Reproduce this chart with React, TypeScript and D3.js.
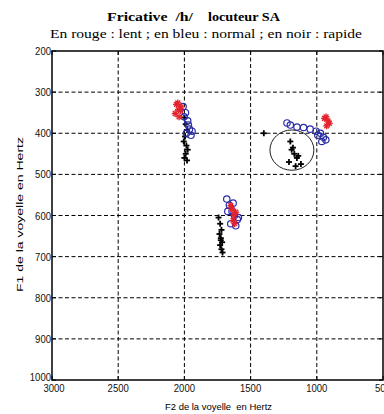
import React from "react";
import * as d3 from "d3";

const xTicks = [3000, 2500, 2000, 1500, 1000, 500];
const yTicks = [200, 300, 400, 500, 600, 700, 800, 900, 1000];

// Red: lent
const redF2 = [2060, 2045, 2070, 2030, 2050, 2025, 2040, 1640, 1625, 1612, 1632, 1650, 1620, 930, 915, 942, 905, 925];
const redF1 = [330, 342, 352, 345, 326, 336, 360, 585, 600, 592, 612, 576, 620, 360, 370, 364, 376, 382];
// Blue: normal
const blueF2 = [2010, 1992, 1975, 1962, 1985, 1950, 1970, 2002, 1942, 1680, 1660, 1640, 1622, 1600, 1650, 1612, 1672, 1632, 1592, 1225, 1200, 1150, 1100, 1050, 1005, 972, 950, 932, 962, 992];
const blueF1 = [335, 350, 370, 390, 400, 405, 380, 360, 395, 560, 575, 590, 600, 610, 620, 625, 590, 570, 605, 375, 380, 385, 386, 390, 395, 400, 410, 416, 420, 405];
// Black: rapide
const blackF2 = [2000, 1990, 1980, 1995, 2005, 1985, 1975, 1990, 2000, 1980, 1742, 1730, 1720, 1735, 1725, 1715, 1730, 1720, 1712, 1725, 1400, 1200, 1180, 1170, 1150, 1210, 1120, 1190, 1140, 1160];
const blackF1 = [362, 378, 392, 408, 420, 430, 440, 450, 460, 466, 605, 620, 635, 645, 655, 665, 672, 682, 690, 660, 400, 420, 435, 450, 460, 470, 475, 440, 455, 480];

const ellipseCenter = [1188, 441];
const ellipseRadius = [166, 49];

const title1a = "Fricative  /h/";
const title1b = "locuteur SA";
const title2 = "En rouge : lent ; en bleu : normal ; en noir : rapide";
const xLabel = "F2 de la voyelle  en Hertz";
const yLabel = "F1 de la voyelle en Hertz";

const W = 384, H = 414;
const left = 52, right = 383, top = 51, bottom = 380;

export default function App() {
  const x = d3.scaleLinear().domain([3000, 500]).range([left, right]);
  const y = d3.scaleLinear().domain([200, 1000]).range([top, bottom]);
  const tickFont = "'Liberation Sans', Arial, sans-serif";
  const serif = "'Liberation Serif', 'Times New Roman', serif";
  const red = "#e3232c", blue = "#2a2ca8";

  const star = (cx: number, cy: number, k: number) => {
    const r = 3.4;
    const lines = [0, 45, 90, 135].map((a) => {
      const t = (a * Math.PI) / 180;
      return <line key={a} x1={cx - r * Math.cos(t)} y1={cy - r * Math.sin(t)} x2={cx + r * Math.cos(t)} y2={cy + r * Math.sin(t)} />;
    });
    return <g key={k}>{lines}</g>;
  };

  const lw = (t: number) => String(t).length * 5.3;

  return (
    <svg width={W} height={H} style={{ position: "absolute", left: 0, top: 0, background: "#fff" }}>
      <rect width={W} height={H} fill="#fff" />
      <text x={107} y={21} fontFamily={serif} fontSize={12} fontWeight="bold" textLength={86} lengthAdjust="spacingAndGlyphs" style={{ whiteSpace: "pre" }}>{title1a}</text>
      <text x={208} y={21} fontFamily={serif} fontSize={12} fontWeight="bold" textLength={72} lengthAdjust="spacingAndGlyphs">{title1b}</text>
      <text x={50} y={38} fontFamily={serif} fontSize={12.5} textLength={312} lengthAdjust="spacingAndGlyphs">{title2}</text>

      {/* grid */}
      <g stroke="#000" strokeWidth={1} strokeDasharray="4,2.5">
        {xTicks.slice(1, -1).map((t) => (
          <line key={"gx" + t} x1={x(t)} x2={x(t)} y1={top} y2={bottom} />
        ))}
        {yTicks.slice(1, -1).map((t) => (
          <line key={"gy" + t} x1={left} x2={right} y1={y(t)} y2={y(t)} />
        ))}
      </g>

      {/* ticks */}
      <g stroke="#000" strokeWidth={1}>
        {xTicks.map((t) => (
          <g key={"tx" + t}>
            <line x1={x(t)} x2={x(t)} y1={top} y2={top + 4} />
            <line x1={x(t)} x2={x(t)} y1={bottom} y2={bottom - 4} />
          </g>
        ))}
        {yTicks.map((t) => (
          <g key={"ty" + t}>
            <line x1={left} x2={left + 4} y1={y(t)} y2={y(t)} />
            <line x1={right} x2={right - 4} y1={y(t)} y2={y(t)} />
          </g>
        ))}
      </g>

      <rect x={left} y={top} width={right - left} height={bottom - top} fill="none" stroke="#000" strokeWidth={1.5} />

      {/* tick labels */}
      <g fontFamily={tickFont} fontSize={10.5} fill="#111">
        {yTicks.map((t) => (
          <text key={"ly" + t} x={left - 1} y={t === 1000 ? y(t) + 1 : y(t) + 4} textAnchor="end" textLength={lw(t)} lengthAdjust="spacingAndGlyphs">{t}</text>
        ))}
        {xTicks.map((t) => (
          <text key={"lx" + t} x={x(t) + (t === 3000 ? 2 : 0)} y={bottom + 12} textAnchor="middle" textLength={lw(t)} lengthAdjust="spacingAndGlyphs">{t}</text>
        ))}
      </g>

      <text x={165} y={410} fontFamily={tickFont} fontSize={9.5} textLength={107} lengthAdjust="spacingAndGlyphs" style={{ whiteSpace: "pre" }}>{xLabel}</text>
      <text transform={`translate(23,${292}) rotate(-90)`} fontFamily={tickFont} fontSize={9.5} textLength={155} lengthAdjust="spacingAndGlyphs">{yLabel}</text>

      {/* ellipse */}
      <ellipse cx={x(ellipseCenter[0])} cy={y(ellipseCenter[1])} rx={Math.abs(x(ellipseCenter[0] + ellipseRadius[0]) - x(ellipseCenter[0]))} ry={y(ellipseCenter[1] + ellipseRadius[1]) - y(ellipseCenter[1])} fill="none" stroke="#222" strokeWidth={1} />

      {/* black + */}
      <g stroke="#000" strokeWidth={1.8}>
        {blackF2.map((f2, i) => (
          <g key={"k" + i}>
            <line x1={x(f2) - 3} x2={x(f2) + 3} y1={y(blackF1[i])} y2={y(blackF1[i])} />
            <line x1={x(f2)} x2={x(f2)} y1={y(blackF1[i]) - 3} y2={y(blackF1[i]) + 3} />
          </g>
        ))}
      </g>
      {/* blue o */}
      <g stroke={blue} strokeWidth={1.2} fill="none">
        {blueF2.map((f2, i) => (
          <circle key={"b" + i} cx={x(f2)} cy={y(blueF1[i])} r={3.2} />
        ))}
      </g>
      {/* red * */}
      <g stroke={red} strokeWidth={1.4}>
        {redF2.map((f2, i) => star(x(f2), y(redF1[i]), i))}
      </g>
    </svg>
  );
}
